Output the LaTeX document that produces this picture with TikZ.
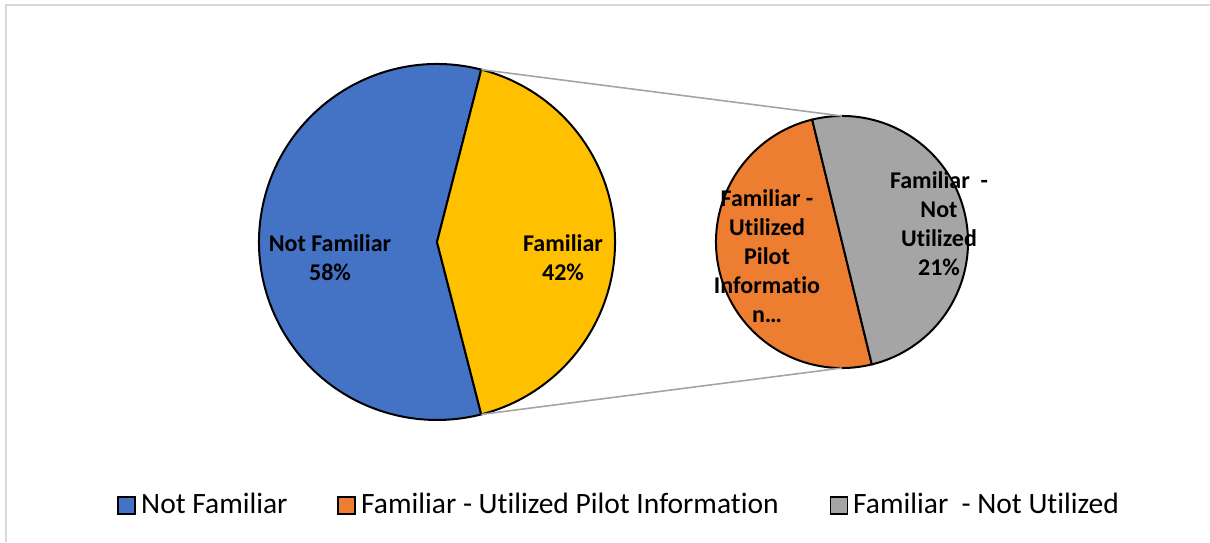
\documentclass[tikz,border=0pt]{standalone}
\usepackage{fontspec}
\setmainfont{Carlito}[Ligatures=NoCommon]
\usetikzlibrary{calc}
\definecolor{cBlue}{HTML}{4472C4}
\definecolor{cYellow}{HTML}{FFC000}
\definecolor{cOrange}{HTML}{ED7D31}
\definecolor{cGray}{HTML}{A5A5A5}
\definecolor{cFrame}{HTML}{D9D9D9}
\tikzset{
  slice/.style={draw=black, line width=2pt, line join=round},
  leader/.style={draw=cGray, line width=1.6pt},
  pielabel/.style={align=center, font=\fontsize{24}{29}\selectfont\bfseries, inner sep=0pt},
  legkey/.style={draw=black, line width=1.6pt, minimum size=17pt, inner sep=0pt},
  legtext/.style={anchor=base west, font=\fontsize{29.5}{34}\selectfont, inner sep=0pt},
}
\begin{document}
\begin{tikzpicture}[x=1pt, y=1pt]
\useasboundingbox (0,0) rectangle (1210,542);
% chart frame
\draw[cFrame, line width=1.8pt] (6,0) -- (6,537) -- (1210,537);

% main pie
\coordinate (big) at (437,300);
\def\Rb{178}
\filldraw[slice, fill=cBlue] (big) -- ++(75.6:\Rb) arc[start angle=75.6, end angle=284.4, radius=\Rb] -- cycle;
\filldraw[slice, fill=cYellow] (big) -- ++(-75.6:\Rb) arc[start angle=-75.6, end angle=75.6, radius=\Rb] -- cycle;

% secondary pie
\coordinate (small) at (842,300);
\def\Rs{126}
\filldraw[slice, fill=cOrange] (small) -- ++(103.7:\Rs) arc[start angle=103.7, end angle=283.7, radius=\Rs] -- cycle;
\filldraw[slice, fill=cGray] (small) -- ++(-76.3:\Rs) arc[start angle=-76.3, end angle=103.7, radius=\Rs] -- cycle;

% leader lines between the pies
\coordinate (bigTop) at ($(big)+(75.6:\Rb)$);
\coordinate (bigBot) at ($(big)+(-75.6:\Rb)$);
\coordinate (smallTop) at ($(small)+(90:\Rs)$);
\coordinate (smallBot) at ($(small)+(-90:\Rs)$);
\draw[leader] (bigTop) -- (smallTop);
\draw[leader] (bigBot) -- (smallBot);

% slice labels
\node[pielabel] (lNotFam) at (330,284) {Not Familiar\\58\%};
\node[pielabel] (lFam) at (563,284) {Familiar\\42\%};
\node[pielabel] (lUtil) at (767,286) {Familiar -\\Utilized\\Pilot\\Informatio\\n…};
\node[pielabel] (lNotUtil) at (939,318.5) {Familiar\ \ -\\Not\\Utilized\\21\%};

% legend
\node[legkey, fill=cBlue] (k1) at (126.5,36.5) {};
\node[legtext] (t1) at (141,29) {Not Familiar};
\node[legkey, fill=cOrange] (k2) at (346.5,36.5) {};
\node[legtext] (t2) at (361,29) {Familiar - Utilized Pilot Information};
\node[legkey, fill=cGray] (k3) at (839,36.5) {};
\node[legtext] (t3) at (853,29) {Familiar\ \ - Not Utilized};
\end{tikzpicture}
\end{document}
